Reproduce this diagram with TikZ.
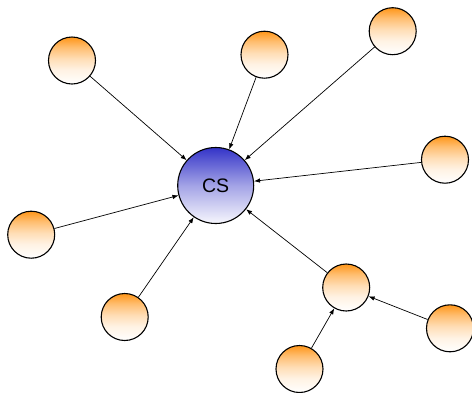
\documentclass[tikz,border=0pt]{standalone}
\usepackage{fontspec}
\setsansfont{Liberation Sans}
\usetikzlibrary{arrows.meta}
\definecolor{csblue}{RGB}{52,52,200}
\definecolor{cliorange}{RGB}{255,150,25}
\pgfdeclareverticalshading{clifade}{100bp}{color(0bp)=(white); color(25bp)=(white); color(40bp)=(cliorange!12!white); color(52bp)=(cliorange!32!white); color(64bp)=(cliorange!62!white); color(75bp)=(cliorange); color(100bp)=(cliorange)}
\pgfdeclareverticalshading{csfade}{100bp}{color(0bp)=(white!96!csblue); color(25bp)=(white!96!csblue); color(50bp)=(csblue!45!white); color(75bp)=(csblue); color(100bp)=(csblue)}
\tikzset{server/.style={circle,draw,line width=1.1pt,shading=csfade,inner sep=0pt,minimum size=76pt,font=\sffamily\fontsize{19.5}{22}\selectfont},
	 client/.style={circle,draw,line width=1.1pt,shading=clifade,inner sep=0pt,minimum size=47pt},
	 link/.style={-{Latex[length=6pt,width=4.5pt]},line width=0.7pt}
	 }

\begin{document}
\begin{tikzpicture}[x=1pt,y=-1pt]
	\useasboundingbox (0,0) rectangle (472,392);
	\node[server] (cs) at (215.7,185.5) {CS};
	\node[client] (c1) at (72,60.5) {};
	\node[client] (c2) at (264.5,54.7) {};
	\node[client] (c3) at (392.7,31.2) {};
	\node[client] (c4) at (445,159.7) {};
	\node[client] (c5) at (31.2,234.7) {};
	\node[client] (c6) at (124.7,317) {};
	\node[client] (c7) at (346.2,287.5) {};
	\node[client] (c8) at (450,328.3) {};
	\node[client] (c9) at (299.5,369) {};
	\draw[link] (c1) to (cs); \draw[link] (c2) to (cs); \draw[link] (c3) to (cs);
	\draw[link] (c4) to (cs); \draw[link] (c5) to (cs); \draw[link] (c6) to (cs);
	\draw[link] (c7) to (cs); \draw[link] (c8) to (c7); \draw[link] (c9) to (c7);
\end{tikzpicture}
\end{document}
